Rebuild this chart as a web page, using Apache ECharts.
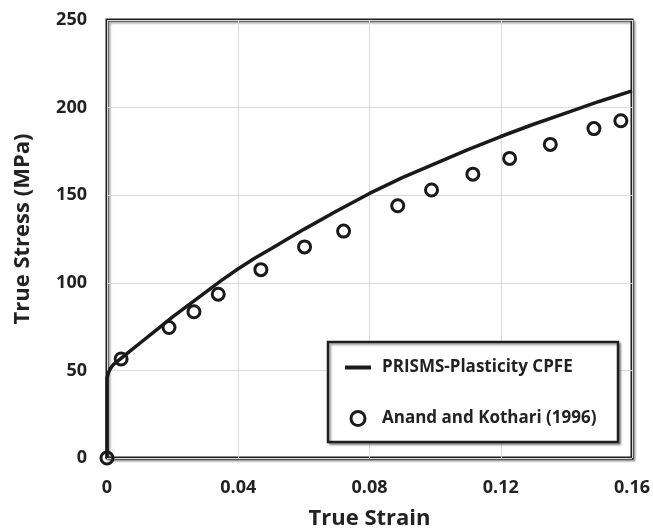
<!DOCTYPE html>
<html>
<head>
<meta charset="utf-8">
<script src="https://cdn.jsdelivr.net/npm/echarts@6/dist/echarts.min.js"></script>
<style>
html,body{margin:0;padding:0;background:#fff;}
#chart{width:653px;height:528px;}
</style>
</head>
<body>
<div id="chart"></div>
<script>
// Simulation curve (PRISMS-Plasticity CPFE)
const simStrain = [0, 0, 0.0005, 0.001, 0.002, 0.004, 0.007, 0.01, 0.015, 0.02, 0.025, 0.03, 0.035, 0.04, 0.045, 0.05, 0.06, 0.07, 0.08, 0.09, 0.10, 0.11, 0.12, 0.13, 0.14, 0.15, 0.16];
const simStress = [0, 46, 49, 51, 53.5, 56.5, 61, 65.5, 73, 80.5, 87.5, 94.5, 101.5, 108, 114, 119.5, 130.5, 141, 151, 160, 168, 176, 183.5, 190.5, 197, 203.5, 209.5];
// Experimental points (Anand and Kothari 1996)
const expStrain = [0, 0.0043, 0.0189, 0.0265, 0.0339, 0.0469, 0.0602, 0.0721, 0.0886, 0.0989, 0.1115, 0.1227, 0.1351, 0.1484, 0.1566];
const expStress = [0, 56.5, 74.5, 83.5, 93.5, 107.5, 120.5, 129.5, 144, 153, 162, 171, 179, 188, 192.5];
const xTicks = [0, 0.04, 0.08, 0.12, 0.16];
const yTicks = [0, 50, 100, 150, 200, 250];
const seriesNames = ['PRISMS-Plasticity CPFE', 'Anand and Kothari (1996)'];
const xTitle = 'True Strain';
const yTitle = 'True Stress (MPa)';

const FONT = 'Open Sans';
const TXT = '#222';
const chart = echarts.init(document.getElementById('chart'), null, {renderer: 'canvas'});
chart.setOption({
  animation: false,
  backgroundColor: '#fff',
  grid: {
    left: 107, right: 21, top: 20, bottom: 70,
    outerBoundsMode: 'none', containLabel: false,
    show: true, borderColor: '#1f1f1f', borderWidth: 3,
    backgroundColor: '#fff',
    shadowColor: 'rgba(0,0,0,0.35)', shadowOffsetX: 2, shadowOffsetY: 2, shadowBlur: 2
  },
  xAxis: {
    type: 'value', min: xTicks[0], max: xTicks[xTicks.length - 1], interval: 0.04,
    axisLine: {show: false}, axisTick: {show: false},
    splitLine: {show: true, lineStyle: {color: '#d9d9d9', width: 1}},
    axisLabel: {
      margin: 21, color: TXT, fontFamily: FONT, fontWeight: 'bold', fontSize: 18,
      formatter: v => String(Number(v.toFixed(2)))
    },
    name: xTitle, nameLocation: 'middle', nameGap: 50,
    nameTextStyle: {color: TXT, fontFamily: FONT, fontWeight: 'bold', fontSize: 22}
  },
  yAxis: {
    type: 'value', min: yTicks[0], max: yTicks[yTicks.length - 1], interval: 50,
    axisLine: {show: false}, axisTick: {show: false},
    splitLine: {show: true, lineStyle: {color: '#d9d9d9', width: 1}},
    axisLabel: {margin: 20, color: TXT, fontFamily: FONT, fontWeight: 'bold', fontSize: 18}
  },
  graphic: [
    {
      type: 'text', x: 23, y: 229, rotation: Math.PI / 2, z: 10,
      style: {text: yTitle, fill: TXT, font: 'bold 22px "Open Sans"', align: 'center', verticalAlign: 'middle'}
    },
    {
      type: 'rect', z: 3, silent: true,
      shape: {x: 328, y: 342, width: 290, height: 100},
      style: {fill: '#fff', stroke: '#1f1f1f', lineWidth: 2.5,
        shadowColor: 'rgba(0,0,0,0.35)', shadowOffsetX: 2, shadowOffsetY: 2, shadowBlur: 2}
    }
  ],
  legend: {
    orient: 'vertical', left: 343, top: 359, padding: 0, z: 6,
    itemWidth: 26, itemHeight: 14, itemGap: 34,
    textStyle: {color: TXT, fontFamily: FONT, fontWeight: 'bold', fontSize: 17, lineHeight: 14, padding: [0, 0, 0, 6]},
    data: [
      {name: seriesNames[0], itemStyle: {color: 'rgba(0,0,0,0)', borderWidth: 0, opacity: 0},
        lineStyle: {color: '#1a1a1a', width: 4}},
      {name: seriesNames[1], itemStyle: {color: 'rgba(255,255,255,0)', borderColor: '#1a1a1a', borderWidth: 3}}
    ]
  },
  series: [
    {
      name: seriesNames[0], type: 'line', showSymbol: false, symbol: 'none',
      data: simStrain.map((x, i) => [x, simStress[i]]),
      lineStyle: {color: '#1a1a1a', width: 3.5}, itemStyle: {color: '#1a1a1a'},
      clip: false, z: 4
    },
    {
      name: seriesNames[1], type: 'scatter', symbol: 'circle', symbolSize: 12,
      data: expStrain.map((x, i) => [x, expStress[i]]),
      itemStyle: {color: 'rgba(255,255,255,0)', borderColor: '#1a1a1a', borderWidth: 3, opacity: 1},
      clip: false, z: 5
    }
  ]
});
</script>
</body>
</html>
